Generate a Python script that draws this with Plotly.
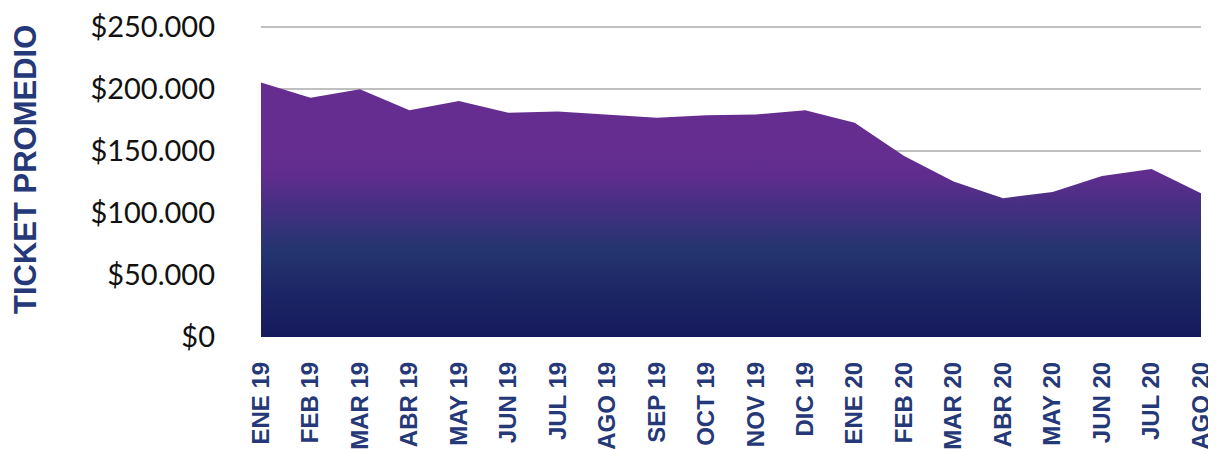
import plotly.graph_objects as go

months = ["ENE 19", "FEB 19", "MAR 19", "ABR 19", "MAY 19", "JUN 19", "JUL 19",
          "AGO 19", "SEP 19", "OCT 19", "NOV 19", "DIC 19", "ENE 20", "FEB 20",
          "MAR 20", "ABR 20", "MAY 20", "JUN 20", "JUL 20", "AGO 20"]
ticket = [205500, 193000, 200000, 183000, 190500, 181000, 182000,
          179500, 177000, 179000, 179500, 183000, 173000, 146000,
          125500, 112000, 117000, 130000, 135500, 116000]

y_tickvals = [0, 50000, 100000, 150000, 200000, 250000]
y_ticktext = ["$0", "$50.000", "$100.000", "$150.000", "$200.000", "$250.000"]
y_title = "TICKET PROMEDIO"

# page body has an 8px offset
OFF = 8
L, R, T, B = 261 - OFF, 15, 26 - OFF, 112
W, H = 1216 - OFF, 449 - OFF
pw = W - L - R
ph = H - T - B

fig = go.Figure()
fig.add_trace(go.Scatter(
    x=months, y=ticket, mode="lines", line=dict(width=0, color="#662d91"),
    fill="tozeroy",
    fillgradient=dict(
        type="vertical", start=0, stop=250000,
        colorscale=[[0.0, "#161a5c"], [0.14, "#1c2565"], [0.28, "#24356f"],
                    [0.42, "#452f82"], [0.52, "#5f2d8e"], [0.6, "#662d91"],
                    [1.0, "#662d91"]],
    ),
    hoverinfo="x+y", showlegend=False,
))

fig.update_layout(
    width=W, height=H,
    margin=dict(l=L, r=R, t=T, b=B),
    paper_bgcolor="white", plot_bgcolor="white",
    xaxis=dict(
        type="category", range=[0, len(months) - 1], automargin=False,
        showgrid=False, showline=False, zeroline=False,
        tickangle=-90, ticklabelstandoff=19,
        tickfont=dict(family="Liberation Sans, Arial", size=24, color="#253877",
                      weight="bold"),
    ),
    yaxis=dict(
        range=[0, 251000], tickvals=y_tickvals, ticktext=y_ticktext,
        automargin=False,
        showgrid=True, gridcolor="#bfbfbf", gridwidth=1.5,
        zeroline=False, showline=False, ticklabelstandoff=45,
        tickfont=dict(family="Lato", size=29, color="#111111"),
    ),
    annotations=[dict(
        text=y_title, xref="paper", yref="paper",
        x=(25 - OFF - L) / pw, y=(H + OFF - B - 170) / ph,
        xanchor="center", yanchor="middle",
        textangle=-90, showarrow=False,
        font=dict(family="Liberation Sans, Arial", size=31, color="#253877",
                  weight="bold"),
    )],
)

fig.write_html("out.html")
